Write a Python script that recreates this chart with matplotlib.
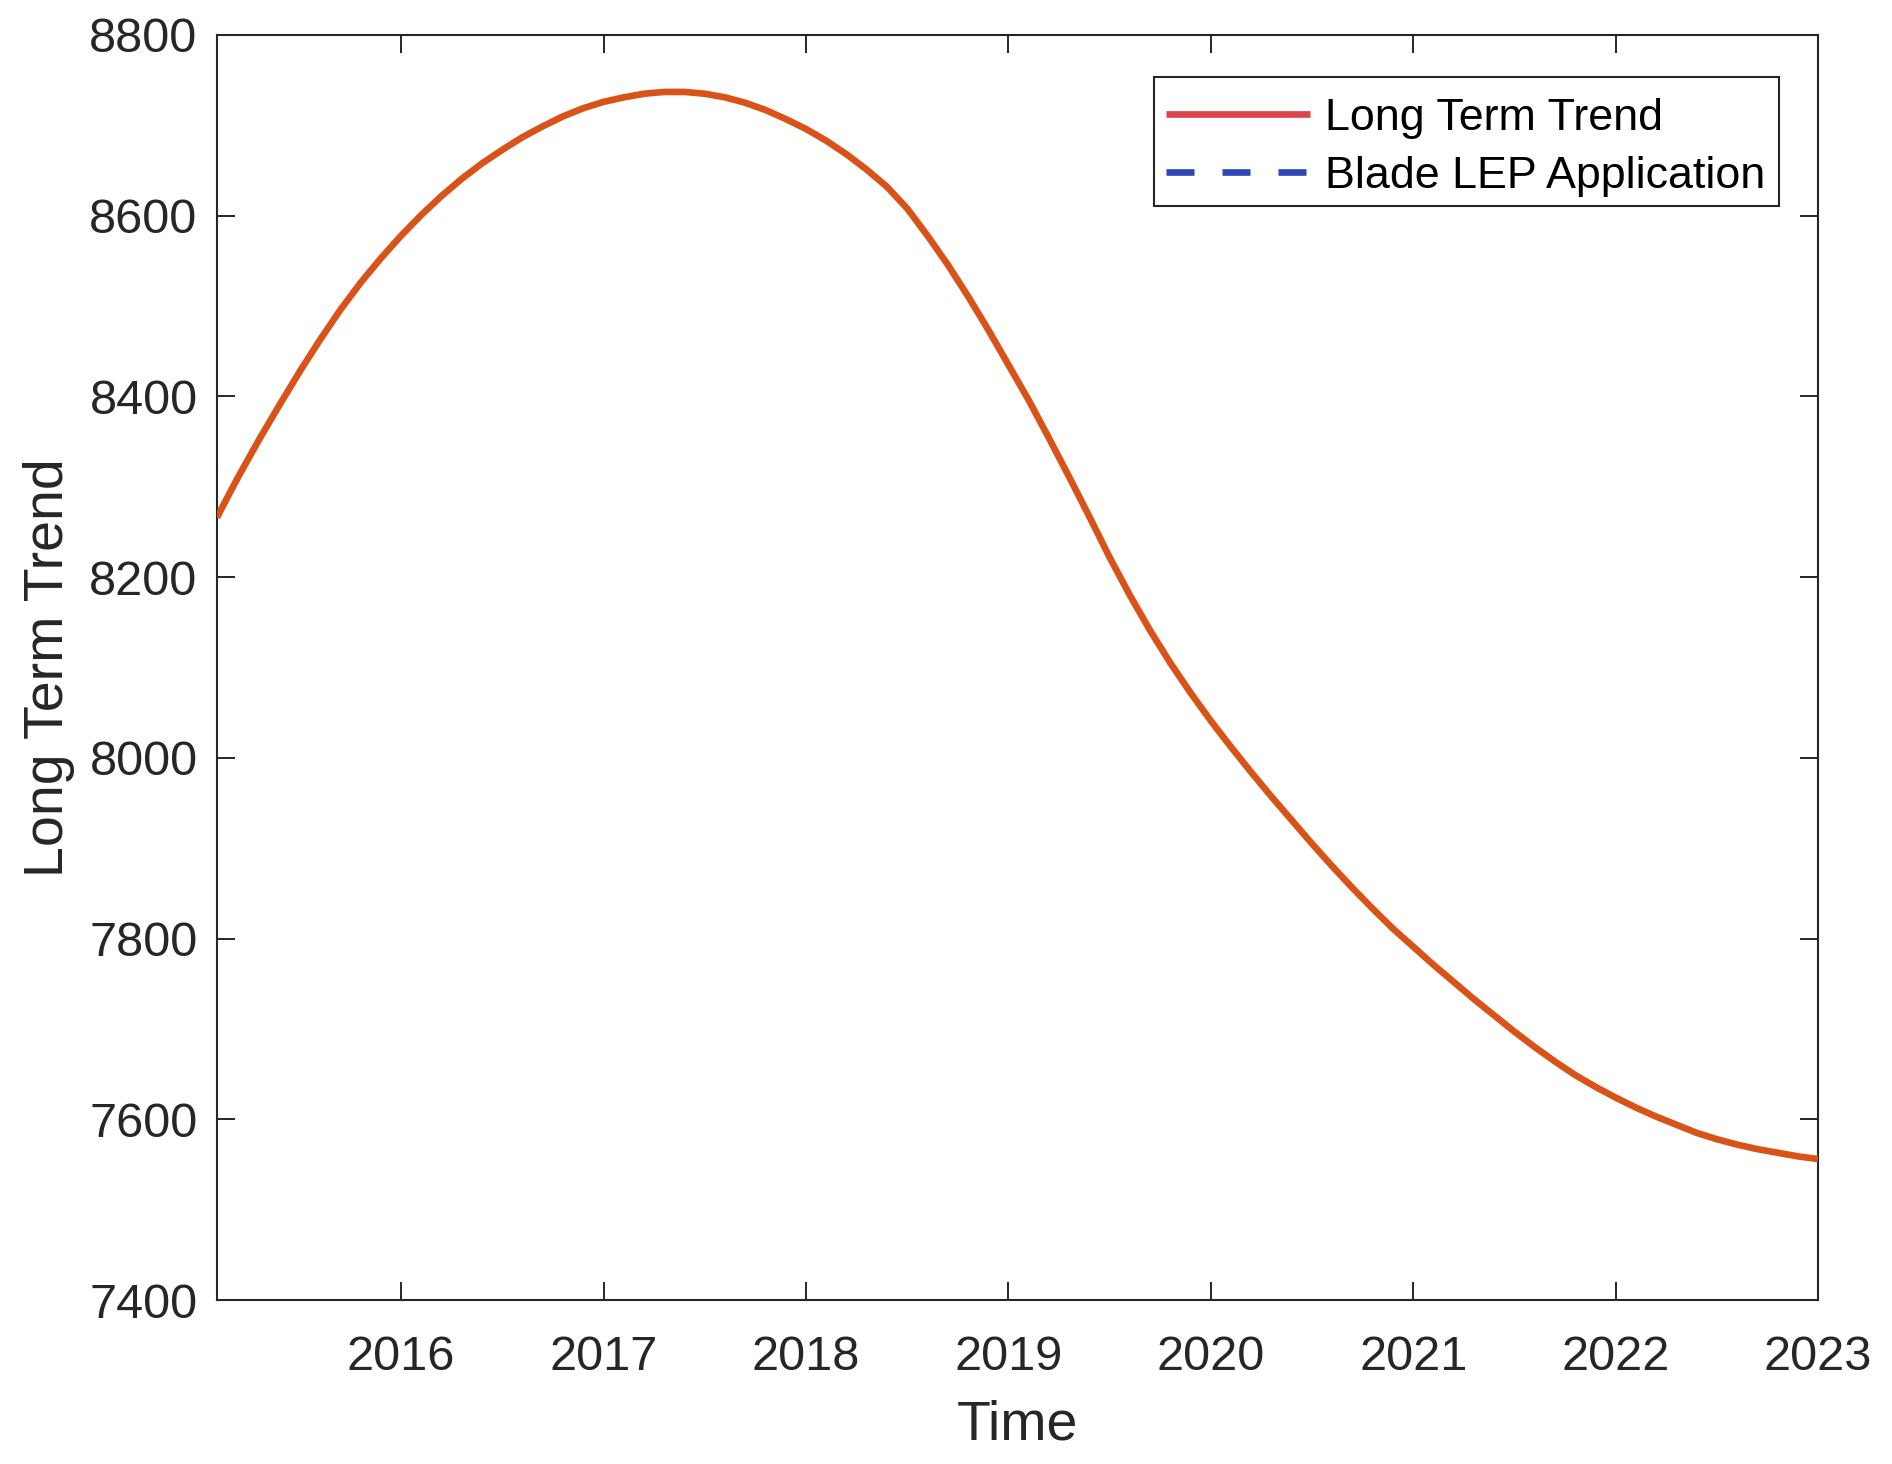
import matplotlib
matplotlib.use("Agg")
import matplotlib.pyplot as plt
from matplotlib.ticker import FixedLocator
from matplotlib.patches import Rectangle

plt.rcParams['font.family'] = ['Liberation Sans', 'DejaVu Sans']

# ---- data ----
time_years = [2015.09, 2015.15, 2015.2, 2015.3, 2015.4, 2015.5, 2015.6, 2015.7, 2015.8, 2015.9,
              2016.0, 2016.1, 2016.2, 2016.3, 2016.4, 2016.5, 2016.6, 2016.7, 2016.8, 2016.9,
              2017.0, 2017.1, 2017.2, 2017.3, 2017.4, 2017.5, 2017.6, 2017.7, 2017.8, 2017.9,
              2018.0, 2018.1, 2018.2, 2018.3, 2018.4, 2018.5, 2018.6, 2018.7, 2018.8, 2018.9,
              2019.0, 2019.1, 2019.2, 2019.3, 2019.4, 2019.5, 2019.6, 2019.7, 2019.8, 2019.9,
              2020.0, 2020.1, 2020.2, 2020.3, 2020.4, 2020.5, 2020.6, 2020.7, 2020.8, 2020.9,
              2021.0, 2021.1, 2021.2, 2021.3, 2021.4, 2021.5, 2021.6, 2021.7, 2021.8, 2021.9,
              2022.0, 2022.1, 2022.2, 2022.3, 2022.4, 2022.5, 2022.6, 2022.7, 2022.8, 2022.9,
              2023.0]
long_term_trend = [8266, 8292, 8313, 8353, 8391, 8428, 8463, 8496, 8526, 8553,
                   8578, 8601, 8622, 8641, 8658, 8673, 8687, 8699, 8710, 8719,
                   8726, 8731, 8735, 8737, 8737, 8735, 8731, 8725, 8717, 8707,
                   8696, 8683, 8668, 8651, 8632, 8608, 8578, 8546, 8511, 8474,
                   8435, 8396, 8354, 8311, 8267, 8222, 8180, 8141, 8105, 8072,
                   8041, 8012, 7984, 7957, 7931, 7905, 7880, 7856, 7833, 7811,
                   7791, 7771, 7752, 7733, 7715, 7697, 7680, 7664, 7649, 7636,
                   7624, 7613, 7603, 7594, 7585, 7578, 7572, 7567, 7563, 7559,
                   7556]

x_ticks = [2016, 2017, 2018, 2019, 2020, 2021, 2022, 2023]
y_ticks = [7400, 7600, 7800, 8000, 8200, 8400, 8600, 8800]
legend_labels = ["Long Term Trend", "Blade LEP Application"]

axis_color = '#262626'

fig = plt.figure(figsize=(18.92, 14.64), dpi=100)
ax = fig.add_axes([217/1892, 1 - 1300/1464, (1818-217)/1892, (1300-35)/1464])

ax.plot(time_years, long_term_trend, color='#D95319', linewidth=4.8,
        solid_capstyle='butt', solid_joinstyle='round', zorder=3)

# legend handles (series styles as in the legend)
h1, = ax.plot([], [], color='#DC444C', linewidth=4.8, solid_capstyle='butt')
h2, = ax.plot([], [], color='#2F46B6', linewidth=4.8, linestyle=(0, (4.2, 4.2)),
              dash_capstyle='butt')

ax.set_xlim(2015.09, 2023.0)
ax.set_ylim(7400, 8800)
ax.xaxis.set_major_locator(FixedLocator(x_ticks))
ax.yaxis.set_major_locator(FixedLocator(y_ticks))
ax.set_xticklabels([str(t) for t in x_ticks])
ax.set_yticklabels([str(t) for t in y_ticks])

ax.tick_params(axis='both', direction='in', length=13, width=1.4,
               colors=axis_color, labelsize=35, top=True, right=True)
ax.tick_params(axis='x', pad=25)
ax.tick_params(axis='y', pad=14)
for s in ax.spines.values():
    s.set_color(axis_color)
    s.set_linewidth(1.5)

ax.set_xlabel("Time", fontsize=40, color=axis_color, labelpad=14)
ax.set_ylabel("Long Term Trend", fontsize=40, color=axis_color, labelpad=10)

# legend frame drawn separately so the entries can sit slightly lower inside it
frame = Rectangle((0.585, 0.8646), 0.9754 - 0.585, 0.9666 - 0.8646,
                  transform=ax.transAxes, facecolor='white',
                  edgecolor=axis_color, linewidth=1.5, zorder=4)
ax.add_patch(frame)
leg = ax.legend([h1, h2], legend_labels, loc='upper right',
                bbox_to_anchor=(0.9756, 0.9668 - 0.0055), borderaxespad=0,
                fontsize=32.3, handlelength=3.22, handletextpad=0.32,
                labelspacing=0.38, borderpad=0.31, frameon=False)
leg.set_zorder(5)

fig.savefig("out.png", dpi=100, facecolor='white')
